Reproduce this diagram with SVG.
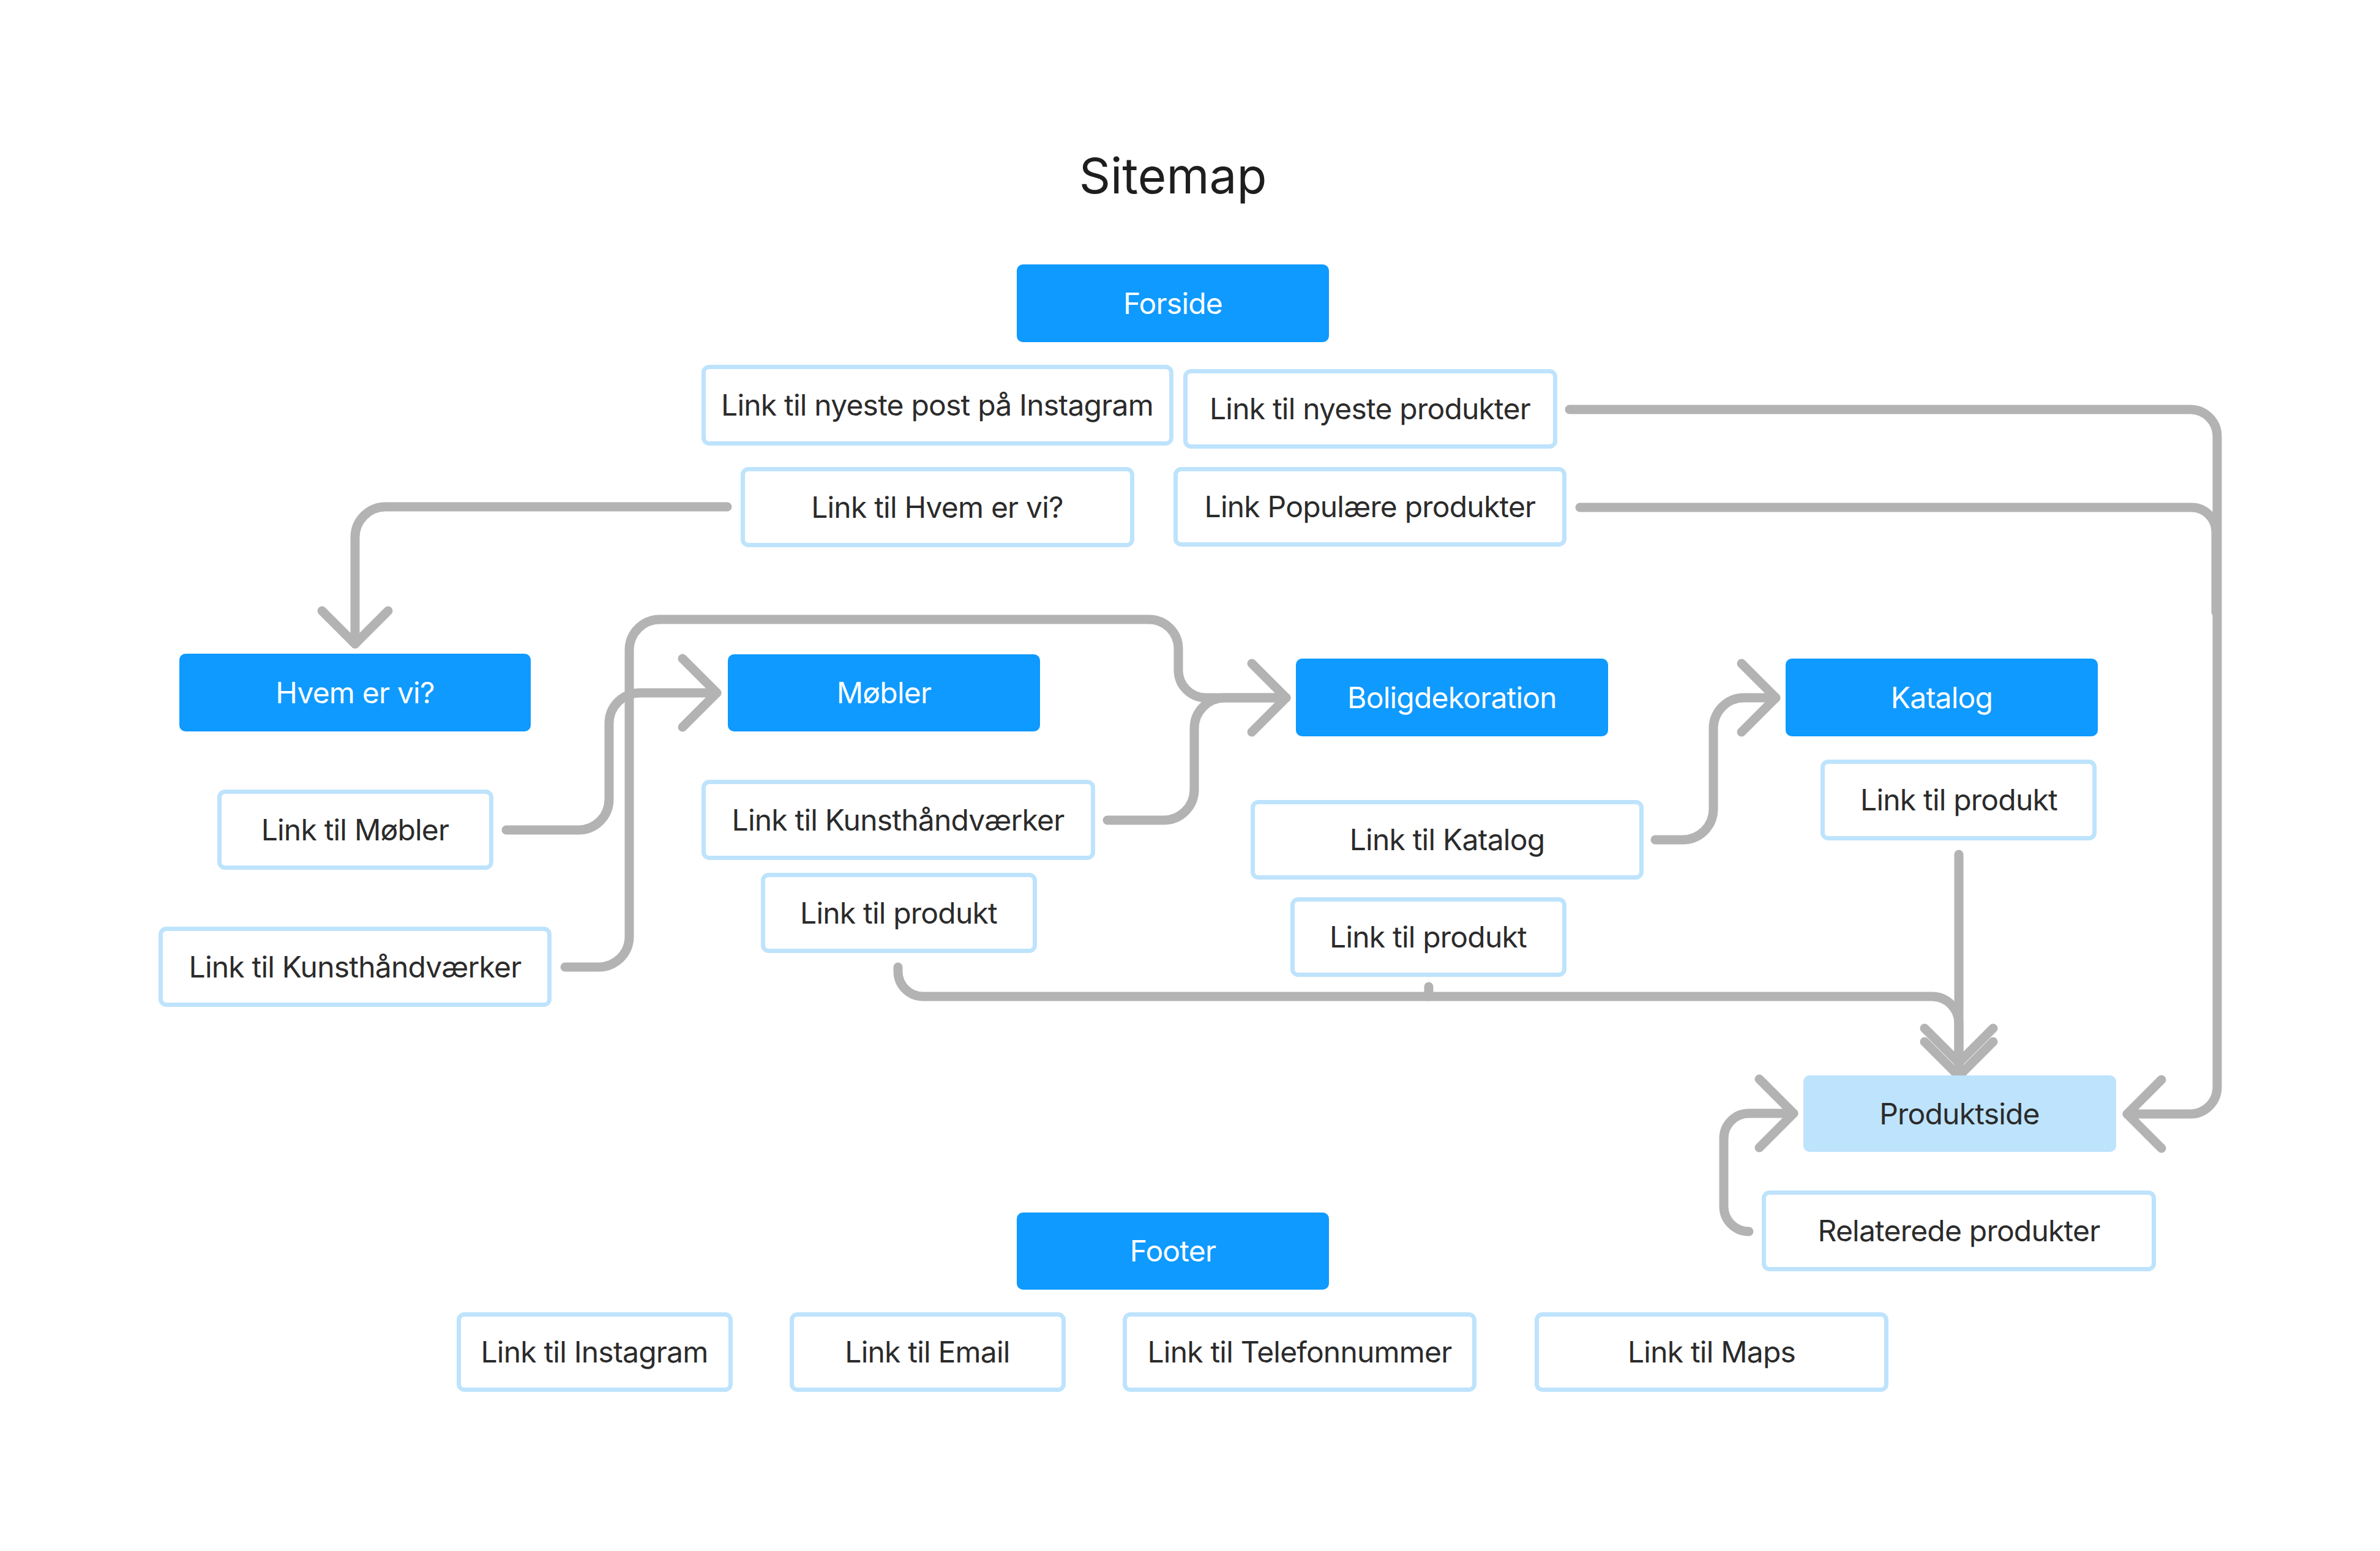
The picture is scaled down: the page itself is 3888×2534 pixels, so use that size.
<svg xmlns="http://www.w3.org/2000/svg" width="3888" height="2534" viewBox="0 0 3888 2534">
<style>
.bg{fill:#ffffff}
.title{font-family:Inter,"Liberation Sans",sans-serif;font-size:80px;fill:#1e1e1e;text-anchor:middle}
.pb rect{fill:#0e9aff}
.pb text{font-family:Inter,"Liberation Sans",sans-serif;font-size:48px;letter-spacing:-0.8px;fill:#ffffff;text-anchor:middle}
.pl rect{fill:#bee3fc}
.pl text{font-family:Inter,"Liberation Sans",sans-serif;font-size:48px;letter-spacing:-0.8px;fill:#2b2b2b;text-anchor:middle}
.ln rect{fill:#ffffff;stroke:#bee3fc;stroke-width:7}
.ln text{font-family:Inter,"Liberation Sans",sans-serif;font-size:48px;letter-spacing:-0.8px;fill:#2b2b2b;text-anchor:middle}
.c path{fill:none;stroke:#b3b3b3;stroke-width:15;stroke-linecap:round;stroke-linejoin:round}
</style>
<rect class="bg" x="0" y="0" width="3888" height="2534"/>
<text class="title" x="1916" y="316">Sitemap</text>

<g id="connectors" class="c">
  <!-- Link til Hvem er vi? -> Hvem er vi? -->
  <path d="M1188,828 H630 A50,50 0 0 0 580,878 V1052"/>
  <path d="M526,998 L580,1052 L634,998"/>
  <!-- Link til Møbler -> Møbler -->
  <path d="M827,1356 H945 A50,50 0 0 0 995,1306 V1182 A50,50 0 0 1 1045,1132 H1171"/>
  <path d="M1115,1076 L1171,1132 L1115,1188"/>
  <!-- Link til Kunsthåndværker (left) -> Boligdekoration -->
  <path d="M923,1580 H978 A50,50 0 0 0 1028,1530 V1062 A50,50 0 0 1 1078,1012 H1877 A48,48 0 0 1 1925,1060 V1095 A45,45 0 0 0 1970,1140 H2101"/>
  <!-- Link til Kunsthåndværker (mid) -> Boligdekoration -->
  <path d="M1809,1340 H1901 A50,50 0 0 0 1951,1290 V1190 A50,50 0 0 1 2001,1140 H2101"/>
  <path d="M2045,1084 L2101,1140 L2045,1196"/>
  <!-- Link til Katalog -> Katalog -->
  <path d="M2704,1372 H2749 A50,50 0 0 0 2799,1322 V1190 A50,50 0 0 1 2849,1140 H2901"/>
  <path d="M2845,1084 L2901,1140 L2845,1196"/>
  <!-- Link til produkt (Katalog) -> Produktside -->
  <path d="M3200,1396 V1758"/>
  <path d="M3144,1702 L3200,1758 L3256,1702"/>
  <!-- Link til produkt (Møbler / Boligdekoration) -> Produktside -->
  <path d="M1467,1580 V1587 A41,41 0 0 0 1508,1628 H3156 A44,44 0 0 1 3200,1672 V1736"/>
  <path d="M2334,1612 V1628"/>
  <path d="M3144,1680 L3200,1736 L3256,1680"/>
  <!-- Link til nyeste produkter -> Produktside -->
  <path d="M2564,669 H3578 A44,44 0 0 1 3622,713 V1776 A44,44 0 0 1 3578,1820 H3475"/>
  <path d="M3531,1764 L3475,1820 L3531,1876"/>
  <!-- Link Populære produkter -> Produktside -->
  <path d="M2581,829 H3580 A40,40 0 0 1 3620,869 V1000"/>
  <!-- Relaterede produkter -> Produktside -->
  <path d="M2857,2012 A41,41 0 0 1 2816,1971 V1860 A41,41 0 0 1 2857,1819 H2930"/>
  <path d="M2874,1763 L2930,1819 L2874,1875"/>
</g>

<g id="forside" class="pb"><rect x="1661" y="432" width="510" height="127" rx="10"/><text x="1916" y="513">Forside</text></g>
<g id="link-instagram-post" class="ln"><rect x="1149.5" y="599.5" width="764" height="125" rx="9"/><text x="1531" y="679">Link til nyeste post på Instagram</text></g>
<g id="link-nyeste" class="ln"><rect x="1936.5" y="606.5" width="604" height="123" rx="9"/><text x="2238" y="685">Link til nyeste produkter</text></g>
<g id="link-hvem" class="ln"><rect x="1213.5" y="766.5" width="636" height="124" rx="9"/><text x="1531" y="846">Link til Hvem er vi?</text></g>
<g id="link-populaere" class="ln"><rect x="1920.5" y="766.5" width="635" height="123" rx="9"/><text x="2238" y="845">Link Populære produkter</text></g>

<g id="hvem" class="pb"><rect x="293" y="1068" width="574" height="127" rx="10"/><text x="580" y="1149">Hvem er vi?</text></g>
<g id="link-moebler" class="ln"><rect x="358.5" y="1293.5" width="444" height="124" rx="9"/><text x="580" y="1373">Link til Møbler</text></g>
<g id="link-kunst-left" class="ln"><rect x="262.5" y="1517.5" width="635" height="124" rx="9"/><text x="580" y="1597">Link til Kunsthåndværker</text></g>

<g id="moebler" class="pb"><rect x="1189" y="1069" width="510" height="126" rx="10"/><text x="1444" y="1149">Møbler</text></g>
<g id="link-kunst-mid" class="ln"><rect x="1149.5" y="1277.5" width="636" height="124" rx="9"/><text x="1467" y="1357">Link til Kunsthåndværker</text></g>
<g id="link-produkt-m" class="ln"><rect x="1246.5" y="1429.5" width="444" height="124" rx="9"/><text x="1468" y="1509">Link til produkt</text></g>

<g id="boligdekoration" class="pb"><rect x="2117" y="1076" width="510" height="127" rx="10"/><text x="2372" y="1157">Boligdekoration</text></g>
<g id="link-katalog" class="ln"><rect x="2046.5" y="1310.5" width="635" height="123" rx="9"/><text x="2364" y="1389">Link til Katalog</text></g>
<g id="link-produkt-b" class="ln"><rect x="2111.5" y="1469.5" width="444" height="123" rx="9"/><text x="2333" y="1548">Link til produkt</text></g>

<g id="katalog" class="pb"><rect x="2917" y="1076" width="510" height="127" rx="10"/><text x="3172" y="1157">Katalog</text></g>
<g id="link-produkt-k" class="ln"><rect x="2977.5" y="1244.5" width="444" height="125" rx="9"/><text x="3200" y="1324">Link til produkt</text></g>

<g id="produktside" class="pl"><rect x="2946" y="1757" width="511" height="125" rx="10"/><text x="3201" y="1837">Produktside</text></g>
<g id="relaterede" class="ln"><rect x="2881.5" y="1948.5" width="637" height="125" rx="9"/><text x="3200" y="2028">Relaterede produkter</text></g>

<g id="footer" class="pb"><rect x="1661" y="1981" width="510" height="126" rx="10"/><text x="1916" y="2061">Footer</text></g>
<g id="link-instagram" class="ln"><rect x="749.5" y="2147.5" width="444" height="123" rx="9"/><text x="971" y="2226">Link til Instagram</text></g>
<g id="link-email" class="ln"><rect x="1293.5" y="2147.5" width="444" height="123" rx="9"/><text x="1515" y="2226">Link til Email</text></g>
<g id="link-telefon" class="ln"><rect x="1837.5" y="2147.5" width="571" height="123" rx="9"/><text x="2123" y="2226">Link til Telefonnummer</text></g>
<g id="link-maps" class="ln"><rect x="2510.5" y="2147.5" width="571" height="123" rx="9"/><text x="2796" y="2226">Link til Maps</text></g>
</svg>
